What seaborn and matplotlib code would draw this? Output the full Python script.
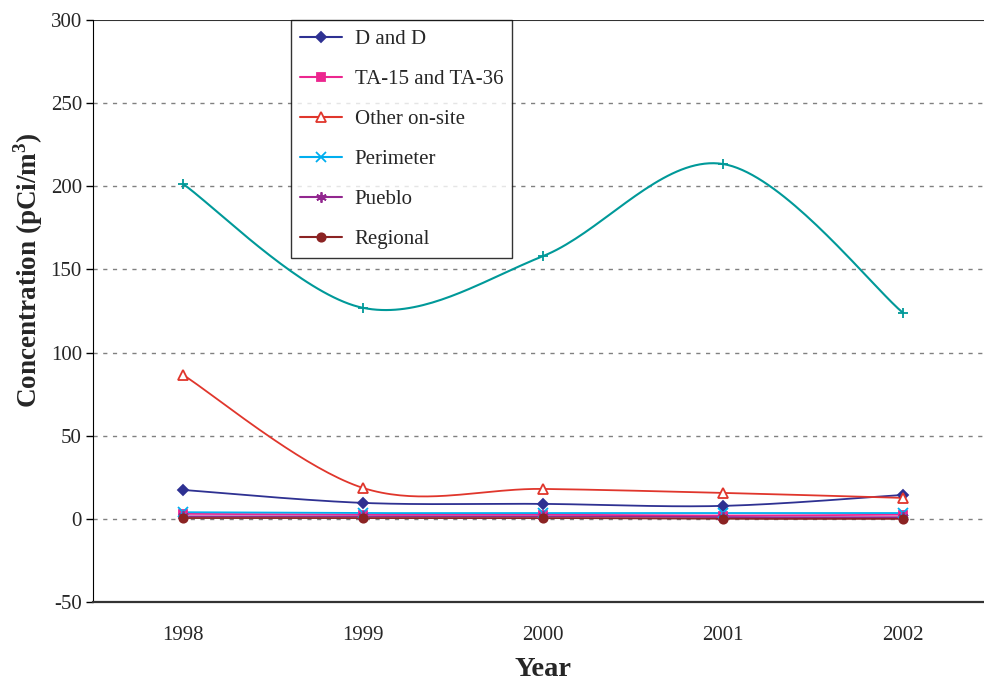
import numpy as np
import pandas as pd
import matplotlib
matplotlib.use("Agg")
import matplotlib.pyplot as plt
import seaborn as sns
from matplotlib.lines import Line2D

# values
years = ["1998", "1999", "2000", "2001", "2002"]
d_and_d = [17.4, 9.6, 9.0, 7.8, 14.4]
ta15_ta36 = [3.0, 2.5, 2.5, 2.0, 2.5]
other_onsite = [86.6, 18.6, 18.0, 15.6, 12.6]
perimeter = [4.0, 3.5, 3.5, 3.5, 3.5]
pueblo = [1.5, 1.5, 1.5, 1.0, 1.0]
regional = [0.5, 0.5, 0.5, 0.0, 0.0]
unlabeled = [201.4, 126.9, 158.0, 213.4, 123.9]

series = [
    ("D and D", d_and_d, "#2E3192", "D", 5.5, True),
    ("TA-15 and TA-36", ta15_ta36, "#EC268F", "s", 6, True),
    ("Other on-site", other_onsite, "#E0362C", "^", 7, False),
    ("Perimeter", perimeter, "#00AEEF", "x", 6.5, True),
    ("Pueblo", pueblo, "#92278F", (6, 2, 0), 7.5, True),
    ("Regional", regional, "#8B2323", "o", 6, True),
]


def smooth(x, y, n=40):
    # bezier smoothing through the points, like a spreadsheet "smoothed line"
    x = np.asarray(x, float)
    y = np.asarray(y, float)
    px = np.concatenate([[x[0]], x, [x[-1]]])
    py = np.concatenate([[y[0]], y, [y[-1]]])
    out_x, out_y = [], []
    t = np.linspace(0, 1, n)
    for i in range(1, len(x)):
        p0 = np.array([px[i], py[i]])
        p3 = np.array([px[i + 1], py[i + 1]])
        c1 = p0 + (np.array([px[i + 1], py[i + 1]]) - np.array([px[i - 1], py[i - 1]])) / 6
        c2 = p3 - (np.array([px[i + 2], py[i + 2]]) - np.array([px[i], py[i]])) / 6
        b = ((1 - t) ** 3)[:, None] * p0 + (3 * (1 - t) ** 2 * t)[:, None] * c1 \
            + (3 * (1 - t) * t ** 2)[:, None] * c2 + (t ** 3)[:, None] * p3
        out_x.extend(b[:, 0])
        out_y.extend(b[:, 1])
    return np.array(out_x), np.array(out_y)


sns.set_style("white")
plt.rcParams["font.family"] = ["Liberation Serif", "DejaVu Serif"]
plt.rcParams["axes.unicode_minus"] = False
plt.rcParams["mathtext.fontset"] = "custom"
plt.rcParams["mathtext.bf"] = "Liberation Serif:bold"
plt.rcParams["mathtext.rm"] = "Liberation Serif"

fig = plt.figure(figsize=(9.84, 6.83), dpi=100)
ax = fig.add_axes([93 / 984, 1 - 602 / 683, 900 / 984, 582 / 683])

xpos = np.arange(len(years))

# gridlines
for yv in [0, 50, 100, 150, 200, 250]:
    ax.axhline(yv, color="#808080", lw=1, ls=(0, (3, 4)), zorder=0)
ax.axhline(300, color="#333333", lw=1.5, zorder=0)

# unlabeled teal series
sx, sy = smooth(xpos, unlabeled)
sns.lineplot(x=sx, y=sy, sort=False, color="#009999", lw=1.5, ax=ax, estimator=None)
ax.plot(xpos, unlabeled, ls="none", marker="+", ms=7, mew=1.3, color="#009999")

handles = []
for name, vals, col, mk, ms, filled in series:
    sx, sy = smooth(xpos, vals)
    sns.lineplot(x=sx, y=sy, sort=False, color=col, lw=1.3, ax=ax, estimator=None)
    mfc = col if filled else "white"
    ax.plot(xpos, vals, ls="none", marker=mk, ms=ms, mew=1.3, color=col, mfc=mfc, zorder=5)
    handles.append(Line2D([0], [0], color=col, lw=1.5, marker=mk, ms=ms, mew=1.3, mfc=mfc, label=name))

ax.set_xlim(-0.5, 4.5)
ax.set_ylim(-50, 300)
ax.set_yticks(np.arange(-50, 301, 50))
ax.set_xticks(xpos)
ax.set_xticklabels(years)
ax.set_xticks(np.arange(-0.5, 4.6, 1), minor=True)
ax.tick_params(axis="x", which="major", length=0, pad=17, labelsize=15)
ax.tick_params(axis="x", which="minor", length=6, width=1, direction="out", color="black")
ax.tick_params(axis="y", length=5, width=1, direction="out", color="black", labelsize=15, left=True, pad=3)

for s in ["top", "right"]:
    ax.spines[s].set_visible(False)
ax.spines["left"].set_color("black")
ax.spines["bottom"].set_color("#333333")
ax.spines["bottom"].set_linewidth(1.6)

ax.set_xlabel("Year", fontsize=20.5, fontweight="bold", labelpad=9)
ax.set_ylabel("Concentration (pCi/m$^\\mathbf{3}$)", fontsize=19.5, fontweight="bold", labelpad=10)
ax.yaxis.set_label_coords(-48 / 900, 0.57)

leg = ax.legend(handles=handles, loc="upper left", bbox_to_anchor=(198 / 900, 1.0),
                frameon=True, fancybox=False, edgecolor="black", fontsize=15,
                handlelength=2.0, labelspacing=0.98, borderpad=0.45, handletextpad=0.6,
                borderaxespad=0)
leg.get_frame().set_linewidth(1.0)

fig.savefig("out.png", dpi=100)
